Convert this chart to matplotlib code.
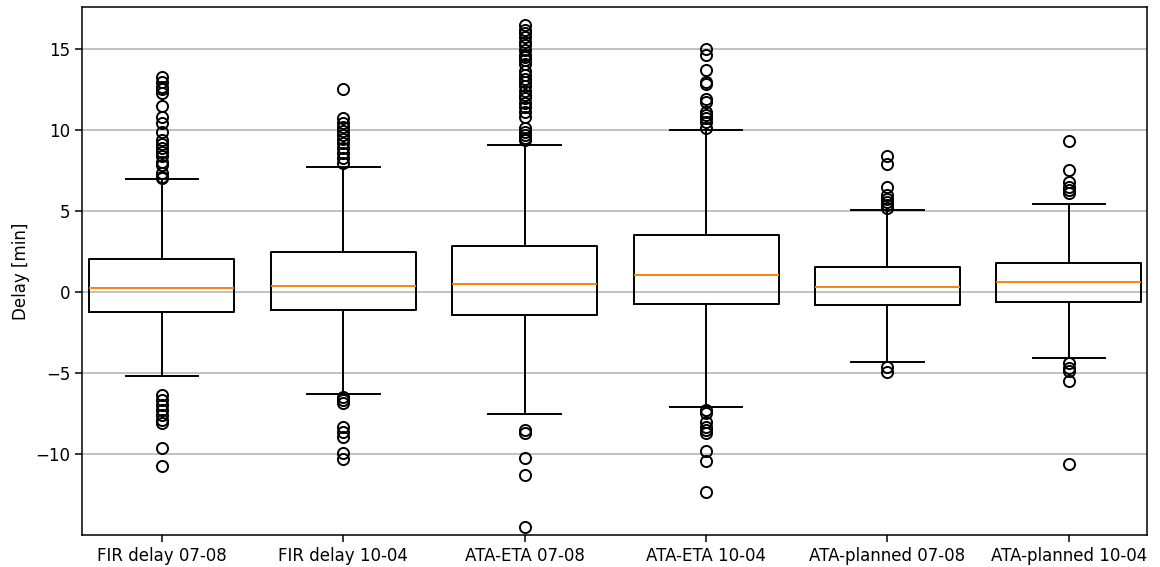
import matplotlib
matplotlib.use('Agg')
import matplotlib.pyplot as plt

labels = ['FIR delay 07-08', 'FIR delay 10-04', 'ATA-ETA 07-08',
          'ATA-ETA 10-04', 'ATA-planned 07-08', 'ATA-planned 10-04']

medians = [0.23, 0.37, 0.51, 1.05, 0.33, 0.60]
q1s = [-1.23, -1.11, -1.42, -0.76, -0.80, -0.64]
q3s = [2.04, 2.45, 2.84, 3.54, 1.56, 1.81]
whislos = [-5.20, -6.30, -7.55, -7.08, -4.30, -4.09]
whishis = [6.96, 7.74, 9.09, 9.98, 5.06, 5.43]

fliers = [
    [13.25, 12.98, 12.64, 12.51, 12.26, 11.48, 10.82, 10.45, 9.90, 9.38, 9.14,
     8.87, 8.66, 8.40, 8.04, 7.84, 7.33, 7.12, 7.02,
     -6.36, -6.67, -6.98, -7.28, -7.59, -7.90, -8.10, -9.61, -10.72],
    [12.51, 10.72, 10.45, 10.20, 9.96, 9.69, 9.42, 9.18, 8.87, 8.56, 8.25, 7.94,
     -6.50, -6.67, -6.87, -8.31, -8.62, -8.97, -9.96, -10.33],
    [16.48, 16.17, 15.97, 15.72, 15.45, 15.25, 14.94, 14.63, 14.49, 14.32,
     14.07, 13.66, 13.40, 13.13, 12.98, 12.72, 12.43, 12.16, 11.96, 11.69,
     11.44, 11.13, 10.82, 10.10, 9.90, 9.69, 9.49, 9.38,
     -8.52, -8.69, -10.27, -11.30, -14.49],
    [14.98, 14.63, 13.70, 12.98, 12.84, 11.90, 11.75, 11.13, 10.93, 10.72,
     10.51, 10.10,
     -7.28, -7.49, -8.00, -8.31, -8.52, -8.72, -9.80, -10.43, -12.36],
    [8.40, 7.90, 6.46, 5.99, 5.72, 5.57, 5.37, 5.17, -4.65, -4.92],
    [9.30, 7.53, 6.81, 6.50, 6.30, 6.09, -4.40, -4.71, -4.86, -5.49, -10.62],
]

stats = []
for i in range(len(labels)):
    stats.append({'label': labels[i], 'med': medians[i], 'q1': q1s[i],
                  'q3': q3s[i], 'whislo': whislos[i], 'whishi': whishis[i],
                  'fliers': fliers[i]})

fig = plt.figure(figsize=(11.6, 5.67), dpi=100)
ax = fig.add_axes([0.0707, 0.0564, 0.918, 0.9313])

lw = 1.4
ax.bxp(stats, widths=0.8,
       boxprops=dict(linewidth=lw, color='black'),
       whiskerprops=dict(linewidth=lw, color='black'),
       capprops=dict(linewidth=lw, color='black'),
       medianprops=dict(linewidth=lw, color='#ff7f0e'),
       flierprops=dict(marker='o', markersize=8, markerfacecolor='none',
                       markeredgecolor='black', markeredgewidth=lw))

ax.set_xlim(0.56, 6.43)
ax.set_ylim(-15.0, 17.6)
ax.set_yticks([-10, -5, 0, 5, 10, 15])
ax.yaxis.grid(True, color='#b0b0b0', linewidth=1.1)
ax.set_axisbelow(True)
ax.set_ylabel('Delay [min]', fontsize=12)
ax.tick_params(labelsize=12, width=1.1, length=5)
for s in ax.spines.values():
    s.set_linewidth(1.1)

fig.savefig('out.png', dpi=100)
